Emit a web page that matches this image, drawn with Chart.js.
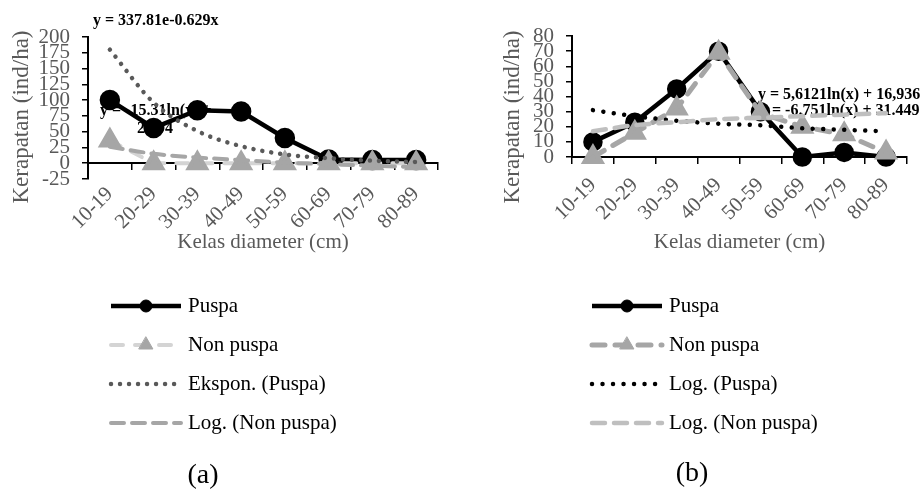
<!DOCTYPE html>
<html>
<head>
<meta charset="utf-8">
<script src="https://cdn.jsdelivr.net/npm/chart.js@4.4.0/dist/chart.umd.min.js"></script>
<style>
  html, body { margin: 0; padding: 0; background: #fff; }
  #wrap { position: relative; width: 924px; height: 491px; }
  canvas { position: absolute; top: 0; }
</style>
</head>
<body>
<div id="wrap">
  <canvas id="chartA" width="462" height="491" style="left:0"></canvas>
  <canvas id="chartB" width="462" height="491" style="left:462px"></canvas>
</div>
<script>
const classes = ['10-19', '20-29', '30-39', '40-49', '50-59', '60-69', '70-79', '80-89'];

// panel (a)
const puspaA = [100, 56, 84, 82, 40, 6, 5, 5];
const nonPuspaA = [36, 0, 0, 0, 0, 0, 0, 0];
const eksponPuspaA = [180, 96, 51, 27, 14, 8, 4, 2];
const logNonPuspaA = [26, 15, 9, 5, 1, -1.5, -4, -6];
const yRangeA = [-25, 200, 25];

// panel (b)
const puspaB = [10, 23, 45, 70, 30, 0, 3, 0];
const nonPuspaB = [0, 16, 32, 69, 29, 20, 15, 3];
const logPuspaB = [31, 27, 24, 22, 21, 19, 18, 17];
const logNonPuspaB = [17, 21, 23, 25, 26, 27, 28, 29];
const yRangeB = [0, 80, 10];

const serif = "'Liberation Serif', 'Times New Roman', serif";
const gray = '#595959';

function overlay(cfg) {
  return {
    id: 'overlay',
    beforeDatasetsDraw(chart) {
      const ctx = chart.ctx;
      ctx.save();
      ctx.fillStyle = '#000';
      ctx.font = 'bold 16px ' + serif;
      ctx.textBaseline = 'middle';
      cfg.equations.forEach(eq => {
        ctx.textAlign = eq.align || 'left';
        ctx.fillText(eq.text, eq.x, eq.y);
      });
      ctx.restore();
    },
    afterDraw(chart) {
      const ctx = chart.ctx;
      // y axis title
      ctx.save();
      ctx.translate(cfg.yTitle[0], cfg.yTitle[1]);
      ctx.rotate(-Math.PI / 2);
      ctx.fillStyle = gray;
      ctx.font = '23px ' + serif;
      ctx.textAlign = 'center';
      ctx.textBaseline = 'middle';
      ctx.fillText('Kerapatan (ind/ha)', 0, 0);
      ctx.restore();

      // legend, one item per row
      const lg = cfg.legend;
      chart.data.datasets.forEach((ds, i) => {
        const y = lg.rows[i];
        ctx.save();
        ctx.strokeStyle = ds.borderColor;
        ctx.lineWidth = ds.borderWidth;
        ctx.lineCap = ds.borderCapStyle || 'butt';
        ctx.setLineDash(ds.borderDash || []);
        ctx.beginPath();
        ctx.moveTo(lg.x0, y);
        ctx.lineTo(lg.x1, y);
        ctx.stroke();
        ctx.setLineDash([]);
        if (ds.pointRadius) {
          const cx = (lg.x0 + lg.x1) / 2;
          ctx.fillStyle = ds.pointBackgroundColor;
          ctx.strokeStyle = ds.pointBorderColor;
          ctx.lineWidth = 1;
          ctx.beginPath();
          if (ds.pointStyle === 'triangle') {
            const r = 8;
            ctx.moveTo(cx, y - r);
            ctx.lineTo(cx + r * 0.866, y + r / 2);
            ctx.lineTo(cx - r * 0.866, y + r / 2);
            ctx.closePath();
          } else {
            ctx.arc(cx, y, 6, 0, Math.PI * 2);
          }
          ctx.fill();
          ctx.stroke();
        }
        ctx.fillStyle = '#000';
        ctx.font = '21px ' + serif;
        ctx.textAlign = 'left';
        ctx.textBaseline = 'middle';
        ctx.fillText(ds.label, lg.textX, y);
        ctx.restore();
      });

      // panel letter
      ctx.save();
      ctx.fillStyle = '#000';
      ctx.font = '28px ' + serif;
      ctx.textAlign = 'center';
      ctx.textBaseline = 'middle';
      ctx.fillText(cfg.panel[0], cfg.panel[1], cfg.panel[2]);
      ctx.restore();
    }
  };
}

function makeChart(id, datasets, range, cfg) {
  return new Chart(document.getElementById(id), {
    type: 'line',
    data: { labels: classes, datasets: datasets },
    options: {
      responsive: false,
      animation: false,
      events: [],
      layout: { padding: cfg.padding },
      plugins: { legend: { display: false }, tooltip: { enabled: false } },
      scales: {
        x: {
          type: 'category',
          offset: true,
          grid: { display: false, drawTicks: false },
          border: { display: false },
          ticks: {
            color: gray, font: { family: serif, size: 21 },
            maxRotation: 45, minRotation: 45, autoSkip: false, padding: cfg.xLabelPad
          },
          title: {
            display: true, text: 'Kelas diameter (cm)', color: gray,
            font: { family: serif, size: 21 }, padding: { top: 0, bottom: 4 }
          },
          afterFit: s => { s.height = cfg.xHeight; }
        },
        x2: {
          type: 'category',
          position: { y: 0 },
          offset: true,
          grid: { offset: true, drawOnChartArea: false, drawTicks: true, tickLength: 6, color: '#000', lineWidth: 1.5 },
          border: { color: '#000', width: 2 },
          ticks: { display: false }
        },
        y: {
          min: range[0], max: range[1],
          grid: { drawOnChartArea: false, drawTicks: true, tickLength: 6, color: '#000', lineWidth: 1.5 },
          border: { color: '#000', width: 2 },
          ticks: { stepSize: range[2], autoSkip: false, color: gray, font: { family: serif, size: 21 }, padding: 12 },
          afterFit: s => { s.width = cfg.yWidth; }
        }
      }
    },
    plugins: [overlay(cfg)]
  });
}

makeChart('chartA', [
  { label: 'Puspa', data: puspaA, borderColor: '#000', borderWidth: 4.5,
    pointStyle: 'circle', pointRadius: 8, pointBackgroundColor: '#000', pointBorderColor: '#000', clip: false, order: 4 },
  { label: 'Non puspa', data: nonPuspaA, borderColor: '#d4d4d4', borderWidth: 4, borderDash: [12, 12], borderCapStyle: 'round',
    pointStyle: 'triangle', pointRadius: 10, pointBackgroundColor: '#a6a6a6', pointBorderColor: '#a6a6a6', clip: false, order: 3 },
  { label: 'Ekspon. (Puspa)', data: eksponPuspaA, borderColor: '#595959', borderWidth: 4.5, borderDash: [0.01, 9], borderCapStyle: 'round',
    pointRadius: 0, cubicInterpolationMode: 'monotone', clip: false, order: 2 },
  { label: 'Log. (Non puspa)', data: logNonPuspaA, borderColor: '#a6a6a6', borderWidth: 4, borderDash: [13, 8], borderCapStyle: 'round',
    pointRadius: 0, cubicInterpolationMode: 'monotone', clip: false, order: 1 }
], yRangeA, {
  padding: { left: 0, top: 37, right: 24, bottom: 232 },
  yWidth: 88, xHeight: 80, xLabelPad: 3,
  yTitle: [22, 117],
  equations: [
    { text: 'y = 337.81e-0.629x', x: 93, y: 21 },
    { text: 'y = -15.31ln(x) +', x: 100, y: 111 },
    { text: '25.94', x: 155, y: 129, align: 'center' }
  ],
  legend: { x0: 111, x1: 181, textX: 188, rows: [306, 345, 384, 423] },
  panel: ['(a)', 203, 476]
});

makeChart('chartB', [
  { label: 'Puspa', data: puspaB, borderColor: '#000', borderWidth: 4.5,
    pointStyle: 'circle', pointRadius: 7.5, pointBackgroundColor: '#000', pointBorderColor: '#000', clip: false, order: 4 },
  { label: 'Non puspa', data: nonPuspaB, borderColor: '#a6a6a6', borderWidth: 5, borderDash: [13, 10], borderCapStyle: 'round',
    pointStyle: 'triangle', pointRadius: 9, pointBackgroundColor: '#a6a6a6', pointBorderColor: '#a6a6a6', clip: false, order: 3 },
  { label: 'Log. (Puspa)', data: logPuspaB, borderColor: '#000', borderWidth: 4.5, borderDash: [0.01, 10.5], borderCapStyle: 'round',
    pointRadius: 0, cubicInterpolationMode: 'monotone', clip: false, order: 2 },
  { label: 'Log. (Non puspa)', data: logNonPuspaB, borderColor: '#bfbfbf', borderWidth: 4.5, borderDash: [13, 9], borderCapStyle: 'round',
    pointRadius: 0, cubicInterpolationMode: 'monotone', clip: false, order: 1 }
], yRangeB, {
  padding: { left: 0, top: 36, right: 17, bottom: 232 },
  yWidth: 110, xHeight: 102, xLabelPad: 16,
  yTitle: [51, 117],
  equations: [
    { text: 'y = 5,6121ln(x) + 16,936', x: 296, y: 95 },
    { text: 'y = -6.751ln(x) + 31.449', x: 298, y: 111 }
  ],
  legend: { x0: 130, x1: 200, textX: 207, rows: [306, 345, 384, 423] },
  panel: ['(b)', 230, 474]
});
</script>
</body>
</html>
